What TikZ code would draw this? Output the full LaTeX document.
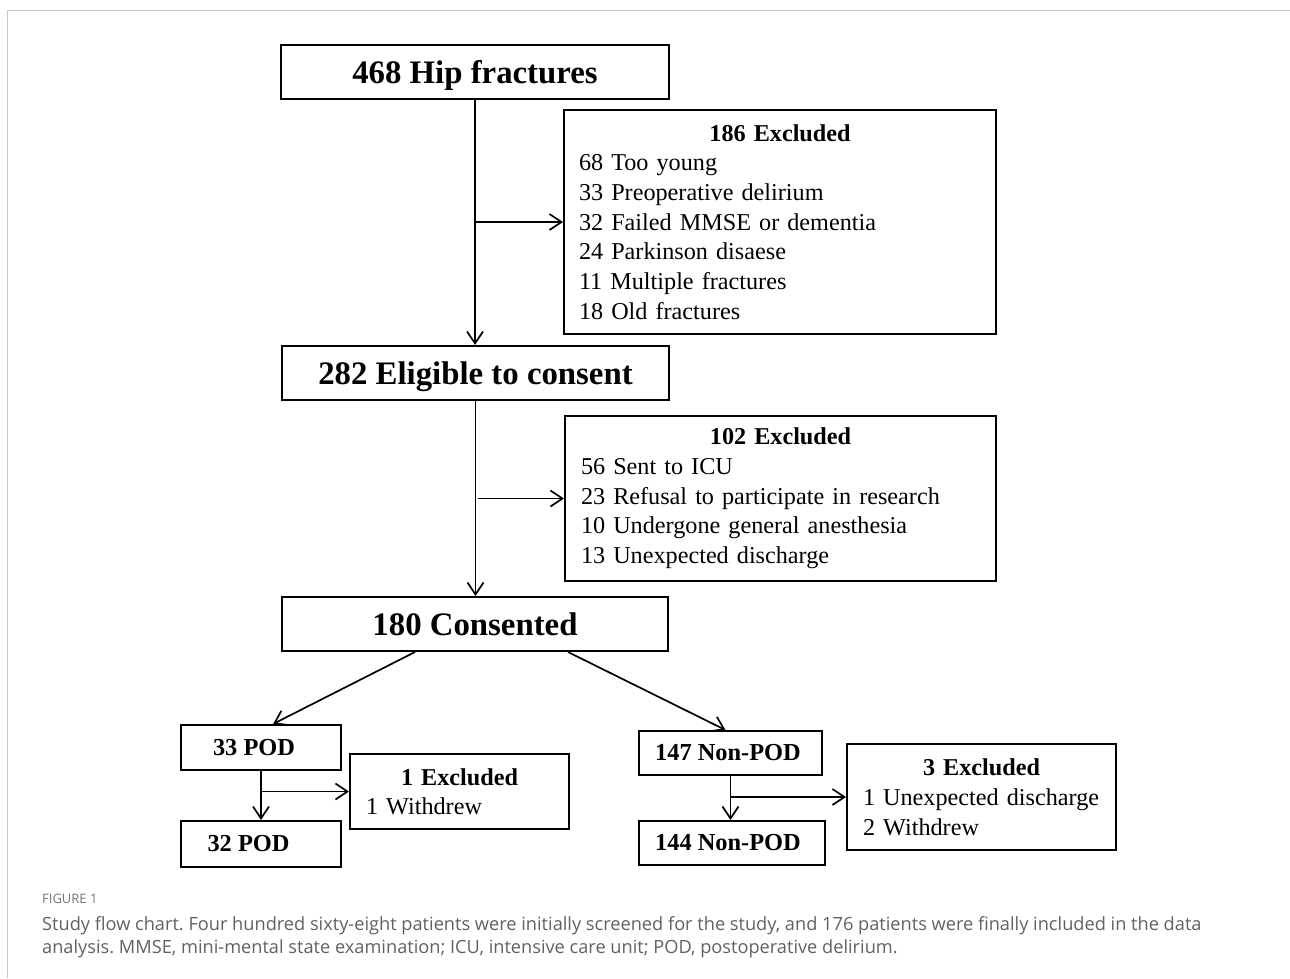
\documentclass[tikz,border=0pt]{standalone}
\usepackage{fontspec}
\setmainfont{Liberation Serif}
\newfontfamily\capfont{Open Sans}
\usetikzlibrary{arrows.meta,calc}
\begin{document}
\frenchspacing
\begin{tikzpicture}[x=1pt,y=-1pt,
  box/.style={draw, line width=2pt, rectangle, inner sep=0pt},
  bigbox/.style={box, text depth=0pt, font=\fontsize{32.8}{36}\selectfont\bfseries},
  smallbox/.style={box, font=\fontsize{24.4}{29}\selectfont\bfseries},
  exbox/.style={box, inner xsep=16pt, align=left, font=\fontsize{24.2}{29.7}\selectfont},
  arr/.style={line width=1.7pt, -{Straight Barb[length=12pt,width=16pt,line width=1.7pt]}},
  frame/.style={draw=black!22, line width=1.4pt},
  caption/.style={font=\capfont\fontsize{18.2}{22}\selectfont, text=black!62, inner sep=0pt, anchor=base west}
]
\useasboundingbox (0,0) rectangle (1290,978);
\draw[frame] (7.5,978) -- (7.5,10.5) -- (1290,10.5);

% main column
\node[bigbox, minimum width=388, minimum height=54] (hip) at (475,72) {468 Hip fractures};
\node[exbox, minimum width=432, minimum height=224, inner xsep=15pt, text width=402pt] (ex1) at (780,222)
  {\makebox[\linewidth]{\bfseries 186 Excluded}\\68 Too young\\33 Preoperative delirium\\32 Failed MMSE or dementia\\24 Parkinson disaese\\11 Multiple fractures\\18 Old fractures};
\node[bigbox, minimum width=387, minimum height=54] (elig) at (475.5,373) {282 Eligible to consent};
\node[exbox, minimum width=431, minimum height=165, text width=399pt] (ex2) at (780.5,498.5)
  {\makebox[\linewidth]{\bfseries 102 Excluded}\\56 Sent to ICU\\23 Refusal to participate in research\\10 Undergone general anesthesia\\13 Unexpected discharge};
\node[bigbox, minimum width=386, minimum height=54] (cons) at (475,624) {180 Consented};

% POD branch
\node[smallbox, minimum width=160, minimum height=45] (pod33) at (261,747.5) {\hspace*{-14pt}33 POD};
\node[exbox, minimum width=219, minimum height=75, text width=187pt, font=\fontsize{24.2}{29}\selectfont] (ex3) at (459.5,791.5)
  {\makebox[\linewidth]{\bfseries 1 Excluded}\\1 Withdrew};
\node[smallbox, minimum width=160, minimum height=46] (pod32) at (261,844) {\hspace*{-25pt}32 POD};

% Non-POD branch
\node[smallbox, minimum width=183, minimum height=44] (np147) at (730.5,753) {\hspace*{-5pt}147 Non-POD};
\node[exbox, minimum width=269, minimum height=106, text width=237pt, font=\fontsize{24.2}{30}\selectfont] (ex4) at (981.5,797)
  {\makebox[\linewidth]{\bfseries 3 Excluded}\\1 Unexpected discharge\\2 Withdrew};
\node[smallbox, minimum width=186, minimum height=44] (np144) at (732,843) {\hspace*{-8pt}144 Non-POD};

% connectors
\draw[arr] (hip.south) -- (hip.south |- elig.north);
\coordinate (b1) at (hip.south |- ex1.west);
\draw[arr] (b1) -- (ex1.west);
\draw[arr] (elig.south) -- (elig.south |- cons.north);
\coordinate (b2) at ([xshift=2pt]elig.south |- ex2.west);
\draw[arr] (b2) -- (ex2.west);
\draw[arr] ([xshift=-60pt]cons.south) -- ([xshift=12pt]pod33.north);
\draw[arr] ([xshift=93pt]cons.south) -- ([xshift=-5pt]np147.north);
\draw[arr] (pod33.south) -- (pod33.south |- pod32.north);
\coordinate (b3) at (pod33.south |- ex3.west);
\draw[arr] (b3) -- (ex3.west);
\draw[arr] (np147.south) -- (np147.south |- np144.north);
\coordinate (b4) at (np147.south |- ex4.west);
\draw[arr] (b4) -- (ex4.west);

% caption
\node[caption, font=\capfont\fontsize{13}{15}\selectfont, text=black!55] (figlab) at (42,903) {FIGURE 1};
\node[caption] (cap1) at (42,930) {Study flow chart. Four hundred sixty-eight patients were initially screened for the study, and 176 patients were finally included in the data};
\node[caption] (cap2) at (42,953) {analysis. MMSE, mini-mental state examination; ICU, intensive care unit; POD, postoperative delirium.};
\end{tikzpicture}
\end{document}
